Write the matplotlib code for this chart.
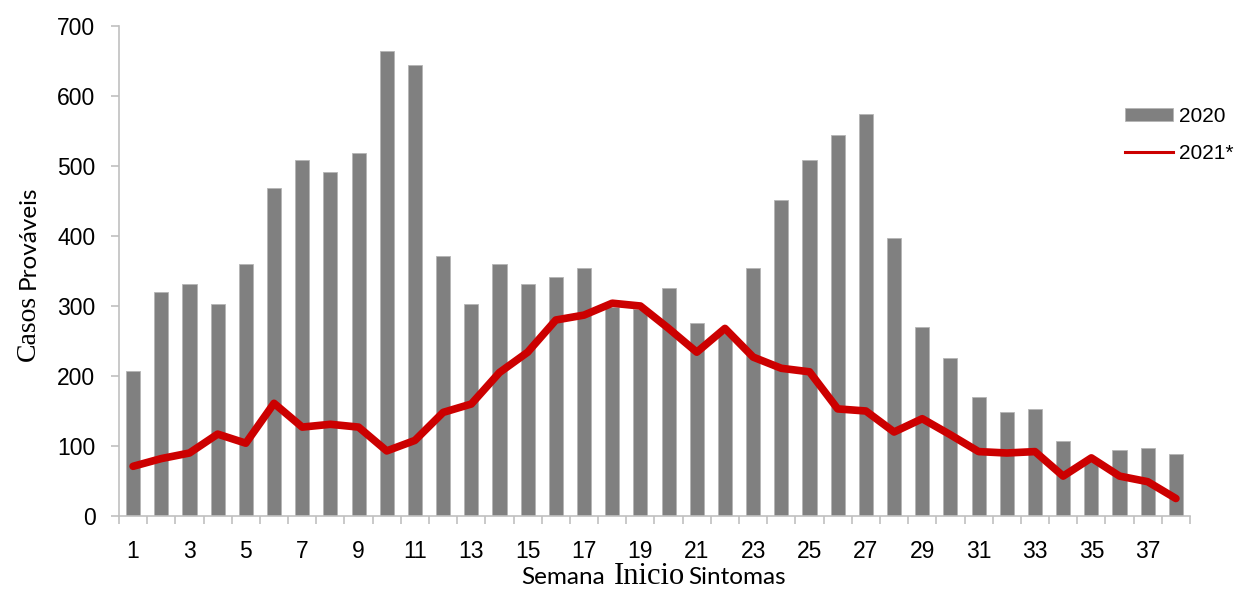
import matplotlib
matplotlib.use("Agg")
import matplotlib.pyplot as plt
from matplotlib.lines import Line2D
import numpy as np

# dados
semanas = np.arange(1, 39)
casos_2020 = [207, 320, 332, 303, 360, 468, 508, 491, 518, 664, 644, 372, 303, 360, 332,
              341, 355, 298, 296, 326, 276, 262, 355, 451, 508, 545, 574, 397, 270, 226,
              170, 149, 153, 107, 80, 94, 97, 88]
casos_2021 = [71, 82, 90, 117, 104, 161, 127, 131, 127, 93, 108, 148, 160, 205, 234,
              280, 287, 304, 300, 268, 234, 268, 227, 211, 206, 153, 150, 120, 139, 116,
              92, 90, 92, 57, 83, 57, 49, 25]
rotulos_x = [str(s) for s in semanas[::2]]
ticks_y = [0, 100, 200, 300, 400, 500, 600, 700]

W, H = 1235, 590
fig = plt.figure(figsize=(W / 100, H / 100), dpi=100)
ax = fig.add_axes([119 / W, 1 - 516 / H, (1190 - 119) / W, (516 - 26) / H])

barras = ax.bar(semanas, casos_2020, width=0.5, color="#808080",
                edgecolor="#b5b5b5", linewidth=0.6, label="2020", zorder=2)
ax.plot(semanas, casos_2021, color="#cc0000", linewidth=5.5,
        solid_joinstyle="round", solid_capstyle="round", zorder=3)

ax.set_xlim(0.5, 38.5)
ax.set_ylim(0, 700)
ax.set_yticks(ticks_y)
ax.set_xticks(semanas[::2])
ax.set_xticklabels(rotulos_x)
ax.set_xticks(np.arange(0.5, 39, 1), minor=True)

for s in ["top", "right"]:
    ax.spines[s].set_visible(False)
for s in ["left", "bottom"]:
    ax.spines[s].set_color("#c0c0c0")
    ax.spines[s].set_linewidth(1.2)

fonte_num = "Liberation Sans"
ax.tick_params(axis="x", which="major", length=0, pad=17, labelsize=16.5)
ax.tick_params(axis="x", which="minor", length=6, color="#c0c0c0", width=1.2, direction="out")
ax.tick_params(axis="y", length=6, color="#c0c0c0", width=1.2, direction="out",
               pad=11, labelsize=16.5)
for t in ax.get_xticklabels() + ax.get_yticklabels():
    t.set_fontfamily(fonte_num)

# legenda
h_linha = Line2D([], [], color="#cc0000", linewidth=2.2)
fig.legend([barras, h_linha], ["2020", "2021*"], loc="upper left",
           bbox_to_anchor=(1125 / W, 1 - 107 / H), frameon=False,
           prop={"family": fonte_num, "size": 15}, handlelength=2.3,
           handleheight=0.6, handletextpad=0.3, labelspacing=0.85,
           borderpad=0, borderaxespad=0)

# rótulos dos eixos com fontes misturadas
sans = "Lato"
serif = "Liberation Serif"

pecas_x = [("Semana", sans, 17.5), ("Inicio", serif, 22), ("Sintomas", sans, 17.5)]
textos_x = [fig.text(0, 6 / H, s, family=f, size=tam, va="baseline", ha="left")
            for s, f, tam in pecas_x]
pecas_y = [("Casos", serif, 20), ("Prováveis", sans, 17.5)]
textos_y = [fig.text(35 / W, 0, s, family=f, size=tam, va="baseline", ha="left",
                     rotation=90, rotation_mode="anchor")
            for s, f, tam in pecas_y]

fig.canvas.draw()
r = fig.canvas.get_renderer()
esp_x = [8, 4]
larg = [t.get_window_extent(r).width for t in textos_x]
total = sum(larg) + sum(esp_x)
x0 = 654 - total / 2
for i, (t, w) in enumerate(zip(textos_x, larg)):
    t.set_x(x0 / W)
    x0 += w + (esp_x[i] if i < len(esp_x) else 0)

esp = 6
alt = [t.get_window_extent(r).height for t in textos_y]
total = sum(alt) + esp * (len(alt) - 1)
y0 = (H - 273) - total / 2
for t, h in zip(textos_y, alt):
    t.set_y(y0 / H)
    y0 += h + esp

fig.savefig("out.png", dpi=100)
